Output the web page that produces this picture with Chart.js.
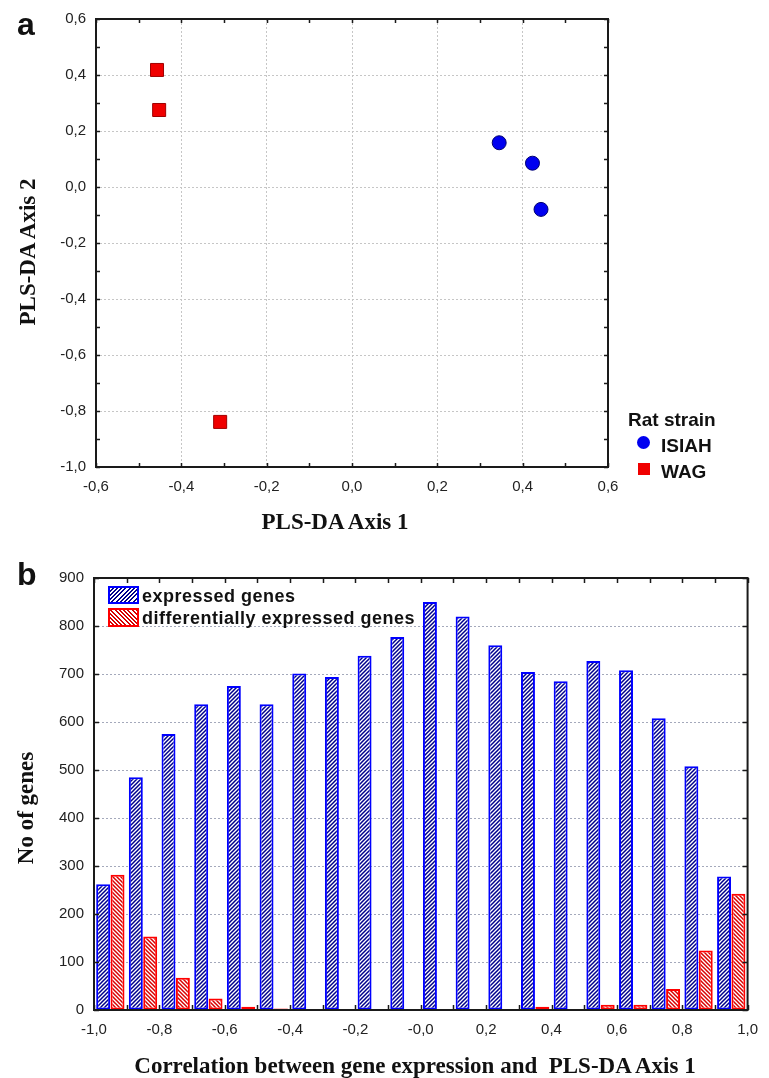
<!DOCTYPE html>
<html>
<head>
<meta charset="utf-8">
<script src="https://cdn.jsdelivr.net/npm/chart.js@4.4.1/dist/chart.umd.min.js"></script>
<style>
  body { margin: 0; background: #fff; }
  #page { position: relative; width: 769px; height: 1078px; overflow: hidden; background: #fff; }
  canvas { position: absolute; left: 0; }
  #chart-a { top: 0; }
  #chart-b { top: 540px; }
  .lbl { position: absolute; white-space: nowrap; color: #111; line-height: 1; }
  .panel { font: bold 32px 'Liberation Sans', Arial, sans-serif; line-height: 32px; }
  .axis-title { font: bold 23px 'Liberation Serif', 'Times New Roman', serif; transform: translate(-50%, -50%); }
  .axis-title.vert { transform: translate(-50%, -50%) rotate(-90deg); }
  .leg { font: bold 19px 'Liberation Sans', Arial, sans-serif; transform: translateY(-50%); }
  .leg-b { font: bold 18px 'Liberation Sans', Arial, sans-serif; letter-spacing: 0.5px; transform: translateY(-50%); }
  .swatch { position: absolute; box-sizing: border-box; }
</style>
</head>
<body>
<div id="page">
  <canvas id="chart-a" width="769" height="540"></canvas>
  <canvas id="chart-b" width="769" height="538"></canvas>

  <div class="lbl panel" style="left:17px; top:8px;">a</div>
  <div class="lbl panel" style="left:17px; top:558px;">b</div>

  <div class="lbl axis-title" style="left:335px; top:522px;">PLS-DA Axis 1</div>
  <div class="lbl axis-title vert" style="left:28px; top:252px;">PLS-DA Axis 2</div>

  <div class="lbl leg" style="left:628px; top:420px;">Rat strain</div>
  <div class="swatch" style="left:637px; top:436px; width:13px; height:13px; border-radius:50%; background:#0000f0;"></div>
  <div class="lbl leg" style="left:661px; top:446px;">ISIAH</div>
  <div class="swatch" style="left:638px; top:463px; width:12px; height:12px; background:#f00000;"></div>
  <div class="lbl leg" style="left:661px; top:472px;">WAG</div>

  <div class="swatch" style="left:108px; top:586px; width:31px; height:18px; border:2px solid #0000ff;
       background: repeating-linear-gradient(135deg, #fff 0 1.5px, #00008c 1.5px 3px);"></div>
  <div class="lbl leg-b" style="left:142px; top:596px;">expressed genes</div>
  <div class="swatch" style="left:108px; top:608px; width:31px; height:19px; border:2px solid #ff0000;
       background: repeating-linear-gradient(45deg, #fff 0 1.5px, #d80000 1.5px 3px);"></div>
  <div class="lbl leg-b" style="left:142px; top:618px;">differentially expressed genes</div>

  <div class="lbl axis-title" style="left:415px; top:1066px;">Correlation between gene expression and&nbsp; PLS-DA Axis 1</div>
  <div class="lbl axis-title vert" style="left:26px; top:808px;">No of genes</div>
</div>

<script>
// panel a: PLS-DA scores
const isiahAxis1 = [0.345, 0.423, 0.443];
const isiahAxis2 = [0.158, 0.085, -0.080];
const wagAxis1 = [-0.457, -0.452, -0.309];
const wagAxis2 = [0.418, 0.275, -0.839];

// panel b: histogram of correlations
const corrBins = [-0.95, -0.85, -0.75, -0.65, -0.55, -0.45, -0.35, -0.25, -0.15, -0.05,
                  0.05, 0.15, 0.25, 0.35, 0.45, 0.55, 0.65, 0.75, 0.85, 0.95];
const expressedGenes = [262, 485, 575, 637, 675, 637, 701, 694, 738, 777,
                        850, 820, 760, 704, 685, 727, 708, 608, 508, 278];
const diffExpressedGenes = [282, 153, 67, 24, 7, 3, 0, 0, 0, 0,
                            0, 0, 2, 7, 2, 11, 11, 44, 124, 242];
const corrTickLabels = ['-1,0', '-0,8', '-0,6', '-0,4', '-0,2', '-0,0', '0,2', '0,4', '0,6', '0,8', '1,0'];

const TICK_FONT = { family: "'Liberation Sans', Arial, sans-serif", size: 15 };
const TICK_COLOR = '#222';

const fmtComma = v => (Math.abs(v) < 1e-9 ? 0 : v).toFixed(1).replace('.', ',');

function hatch(color, dir) {
  const s = 4;
  const c = document.createElement('canvas');
  c.width = s; c.height = s;
  const g = c.getContext('2d');
  g.fillStyle = '#fff';
  g.fillRect(0, 0, s, s);
  g.strokeStyle = color;
  g.lineWidth = 1.5;
  g.beginPath();
  if (dir === '/') {
    g.moveTo(-1, s + 1); g.lineTo(s + 1, -1);
    g.moveTo(-1, 1); g.lineTo(1, -1);
    g.moveTo(s - 1, s + 1); g.lineTo(s + 1, s - 1);
  } else {
    g.moveTo(-1, -1); g.lineTo(s + 1, s + 1);
    g.moveTo(s - 1, -1); g.lineTo(s + 1, 1);
    g.moveTo(-1, s - 1); g.lineTo(1, s + 1);
  }
  g.stroke();
  return g.createPattern(c, 'repeat');
}

// frame + inward ticks on all four sides
const frameTicks = {
  id: 'frameTicks',
  afterDatasetsDraw(chart, args, opts) {
    const { ctx, chartArea: a, scales: { x, y } } = chart;
    const len = opts.len || 4;
    ctx.save();
    ctx.strokeStyle = '#1a1a1a';
    ctx.lineWidth = 1.5;
    ctx.beginPath();
    for (let v = x.min; v <= x.max + 1e-9; v += opts.xStep) {
      const px = Math.round(x.getPixelForValue(v)) + 0.5;
      ctx.moveTo(px, a.bottom); ctx.lineTo(px, a.bottom - len);
      ctx.moveTo(px, a.top); ctx.lineTo(px, a.top + len);
    }
    for (let v = y.min; v <= y.max + 1e-9; v += opts.yStep) {
      const py = Math.round(y.getPixelForValue(v)) + 0.5;
      ctx.moveTo(a.left, py); ctx.lineTo(a.left + len, py);
      ctx.moveTo(a.right, py); ctx.lineTo(a.right - len, py);
    }
    ctx.stroke();
    ctx.lineWidth = 2;
    ctx.strokeRect(a.left, a.top, a.right - a.left, a.bottom - a.top);
    ctx.restore();
  }
};

// chart a
new Chart(document.getElementById('chart-a'), {
  type: 'scatter',
  data: {
    datasets: [
      {
        label: 'ISIAH',
        data: isiahAxis1.map((x, i) => ({ x, y: isiahAxis2[i] })),
        pointStyle: 'circle', pointRadius: 7,
        backgroundColor: '#0000f0', borderColor: '#000070', borderWidth: 1
      },
      {
        label: 'WAG',
        data: wagAxis1.map((x, i) => ({ x, y: wagAxis2[i] })),
        pointStyle: 'rect', pointRadius: 9.2,
        backgroundColor: '#f00000', borderColor: '#a00000', borderWidth: 1
      }
    ]
  },
  options: {
    responsive: false,
    animation: false,
    layout: { padding: { left: 0, top: 19, right: 161, bottom: 0 } },
    plugins: {
      legend: { display: false },
      tooltip: { enabled: false },
      frameTicks: { xStep: 0.1, yStep: 0.1, len: 4 }
    },
    scales: {
      x: {
        type: 'linear', min: -0.6, max: 0.6,
        ticks: { stepSize: 0.2, padding: 11, color: TICK_COLOR, font: TICK_FONT, callback: v => fmtComma(v) },
        grid: { color: '#c6c6c6', drawTicks: false, borderDash: [2, 2] },
        border: { display: false, dash: [2, 2] },
        afterFit: s => { s.height = 73; }
      },
      y: {
        type: 'linear', min: -1, max: 0.6,
        ticks: { stepSize: 0.2, padding: 10, color: TICK_COLOR, font: TICK_FONT, callback: v => fmtComma(v) },
        grid: { color: '#c6c6c6', drawTicks: false, borderDash: [2, 2] },
        border: { display: false, dash: [2, 2] },
        afterFit: s => { s.width = 96; }
      }
    }
  },
  plugins: [frameTicks]
});

// chart b
new Chart(document.getElementById('chart-b'), {
  type: 'bar',
  data: {
    datasets: [
      {
        label: 'expressed genes',
        data: corrBins.map((x, i) => ({ x, y: expressedGenes[i] })),
        backgroundColor: hatch('#00008c', '/'),
        borderColor: '#0000ff', borderWidth: 2, borderSkipped: false,
        categoryPercentage: 0.88, barPercentage: 0.97
      },
      {
        label: 'differentially expressed genes',
        data: corrBins.map((x, i) => ({ x, y: diffExpressedGenes[i] })),
        backgroundColor: hatch('#d80000', '\\'),
        borderColor: '#ff0000', borderWidth: 2, borderSkipped: false,
        categoryPercentage: 0.88, barPercentage: 0.97
      }
    ]
  },
  options: {
    responsive: false,
    animation: false,
    layout: { padding: { left: 0, top: 38, right: 11, bottom: 0 } },
    plugins: {
      legend: { display: false },
      tooltip: { enabled: false },
      frameTicks: { xStep: 0.1, yStep: 100, len: 5 }
    },
    scales: {
      x: {
        type: 'linear', min: -1, max: 1, offset: false,
        ticks: { stepSize: 0.2, padding: 11, color: TICK_COLOR, font: TICK_FONT, autoSkip: false,
                 callback: (v, i) => corrTickLabels[i] },
        grid: { display: false, drawTicks: false, offset: false },
        border: { display: false },
        afterFit: s => { s.height = 68; }
      },
      y: {
        min: 0, max: 900,
        ticks: { stepSize: 100, padding: 10, color: TICK_COLOR, font: TICK_FONT },
        grid: { color: '#a4a9bb', drawTicks: false, borderDash: [2, 2] },
        border: { display: false, dash: [2, 2] },
        afterFit: s => { s.width = 94; }
      }
    }
  },
  plugins: [frameTicks]
});
</script>
</body>
</html>
